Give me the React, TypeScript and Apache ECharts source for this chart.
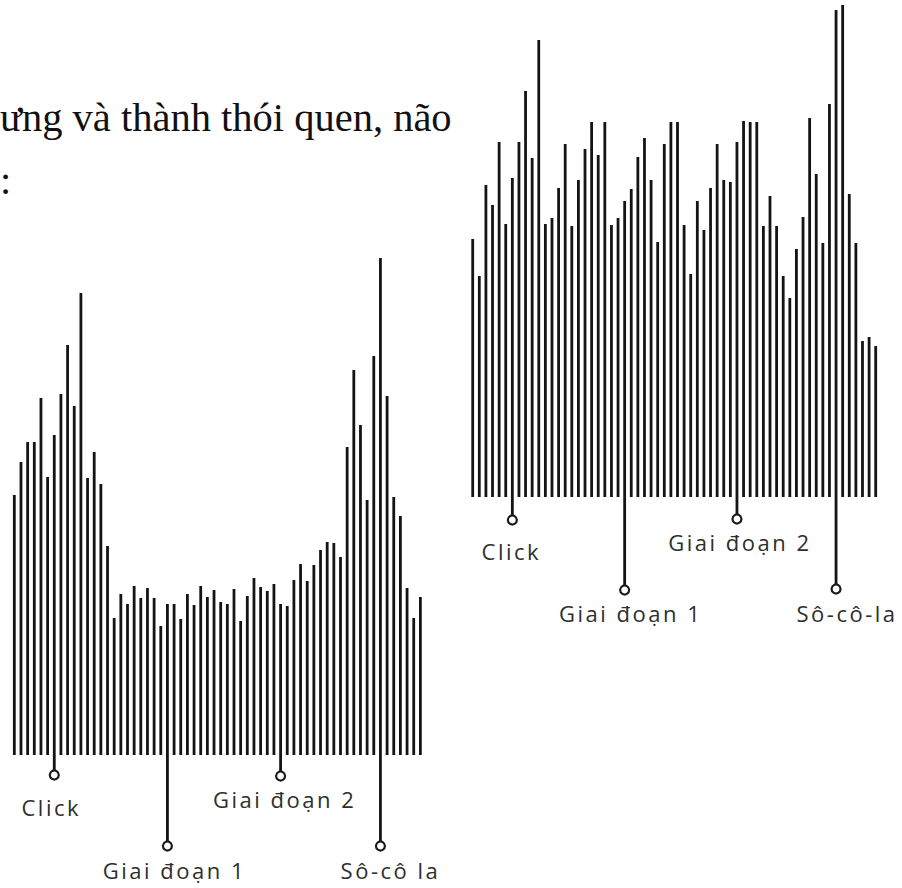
import React, { useEffect, useRef } from "react";
import * as echarts from "echarts";

// ---- data ----
const categories: string[] = Array.from({ length: 62 }, (_, i) => String(i + 1));

const leftValues: number[] = [
  260, 293, 313, 313, 357, 278, 320, 361, 410, 349,
  462, 277, 303, 271, 209, 137, 161, 151, 169, 157,
  167, 157, 129, 151, 151, 136, 161, 150, 169, 158,
  165, 153, 151, 166, 134, 159, 177, 168, 164, 171,
  151, 149, 175, 191, 174, 190, 205, 213, 212, 198,
  308, 385, 330, 255, 399, 497, 359, 258, 239, 167,
  137, 158,
];

const rightValues: number[] = [
  258, 221, 312, 292, 355, 273, 319, 355, 406, 339,
  457, 273, 279, 309, 353, 271, 317, 348, 375, 342,
  375, 272, 279, 296, 308, 340, 359, 317, 255, 353,
  375, 375, 272, 223, 296, 267, 309, 353, 317, 315,
  355, 376, 375, 375, 271, 301, 271, 221, 199, 248,
  280, 379, 323, 254, 393, 487, 492, 303, 254, 156,
  160, 151,
];

const markerIndex: number[] = [6, 23, 40, 55];
const leftMarkerLabels: string[] = ["Click", "Giai đoạn 1", "Giai đoạn 2", "Sô-cô la"];
const rightMarkerLabels: string[] = ["Click", "Giai đoạn 1", "Giai đoạn 2", "Sô-cô-la"];
const leftMarkerDepth: number[] = [-20, -91, -21, -91];
const rightMarkerDepth: number[] = [-23, -93, -22, -92];

const headingText = "ưng và thành thói quen, não";
const headingTail = ":";

// ---- styles ----
const BAR_COLOR = "#141414";
const LABEL_COLOR = "#2e2e2e";
const LABEL_FONT = "Open Sans";
const HEADING_FONT = '40.5px "Liberation Serif"';
const leftLabelOffsets: number[][] = [[-3, 32], [7, 24], [4, 23], [10, 24]];
const rightLabelOffsets: number[][] = [[-1, 31], [6, 23], [3, 23], [11, 24]];

function stemData(depths: number[]): (number | null)[] {
  const arr: (number | null)[] = categories.map(() => null);
  markerIndex.forEach((idx, k) => {
    arr[idx] = depths[k];
  });
  return arr;
}

function markerSeries(
  axisIndex: number,
  depths: number[],
  labels: string[],
  offsets: number[][]
) {
  return {
    type: "scatter",
    xAxisIndex: axisIndex,
    yAxisIndex: axisIndex,
    symbol: "circle",
    symbolSize: 9,
    z: 5,
    itemStyle: { color: "#ffffff", borderColor: "#1a1a1a", borderWidth: 2.2, opacity: 1 },
    label: {
      show: true,
      position: "inside",
      color: LABEL_COLOR,
      fontFamily: LABEL_FONT,
      fontSize: 22,
      formatter: (p: any) => p.name,
    },
    data: markerIndex.map((idx, k) => ({
      name: labels[k],
      value: [idx, depths[k]],
      label: { offset: offsets[k] },
    })),
  };
}

function barSeries(axisIndex: number, values: number[]) {
  return {
    type: "bar",
    xAxisIndex: axisIndex,
    yAxisIndex: axisIndex,
    barWidth: 2.8,
    barGap: "-100%",
    itemStyle: { color: BAR_COLOR },
    data: values,
  };
}

export default function App() {
  const ref = useRef<HTMLDivElement>(null);

  useEffect(() => {
    if (!ref.current) return;
    const chart = echarts.init(ref.current, undefined, { renderer: "svg" });
    const hiddenX = (gridIndex: number) => ({
      type: "category",
      gridIndex,
      data: categories,
      show: false,
      boundaryGap: true,
    });
    chart.setOption({
      animation: false,
      backgroundColor: "#ffffff",
      grid: [
        { left: 11, top: 255, width: 412.7, height: 610 },
        { left: 469.4, top: 2, width: 409.6, height: 610 },
      ],
      xAxis: [hiddenX(0), hiddenX(1)],
      yAxis: [
        { type: "value", gridIndex: 0, min: -110, max: 500, show: false },
        { type: "value", gridIndex: 1, min: -115, max: 495, show: false },
      ],
      graphic: [
        {
          type: "text",
          x: 0,
          y: 117,
          style: {
            text: headingText,
            font: HEADING_FONT,
            fill: "#111111",
            verticalAlign: "middle",
          },
        },
        {
          type: "text",
          x: 0,
          y: 180,
          style: {
            text: headingTail,
            font: HEADING_FONT,
            fill: "#111111",
            verticalAlign: "middle",
          },
        },
      ],
      series: [
        barSeries(0, leftValues),
        barSeries(0, stemData(leftMarkerDepth) as any),
        barSeries(1, rightValues),
        barSeries(1, stemData(rightMarkerDepth) as any),
        markerSeries(0, leftMarkerDepth, leftMarkerLabels, leftLabelOffsets),
        markerSeries(1, rightMarkerDepth, rightMarkerLabels, rightLabelOffsets),
      ],
    });
    return () => chart.dispose();
  }, []);

  return (
    <>
      <style>{`#chart-root text[style*="Open Sans"]{letter-spacing:2.5px;}`}</style>
      <div
        id="chart-root"
        ref={ref}
        style={{ position: "absolute", left: 0, top: 0, width: 902, height: 888 }}
      />
    </>
  );
}
